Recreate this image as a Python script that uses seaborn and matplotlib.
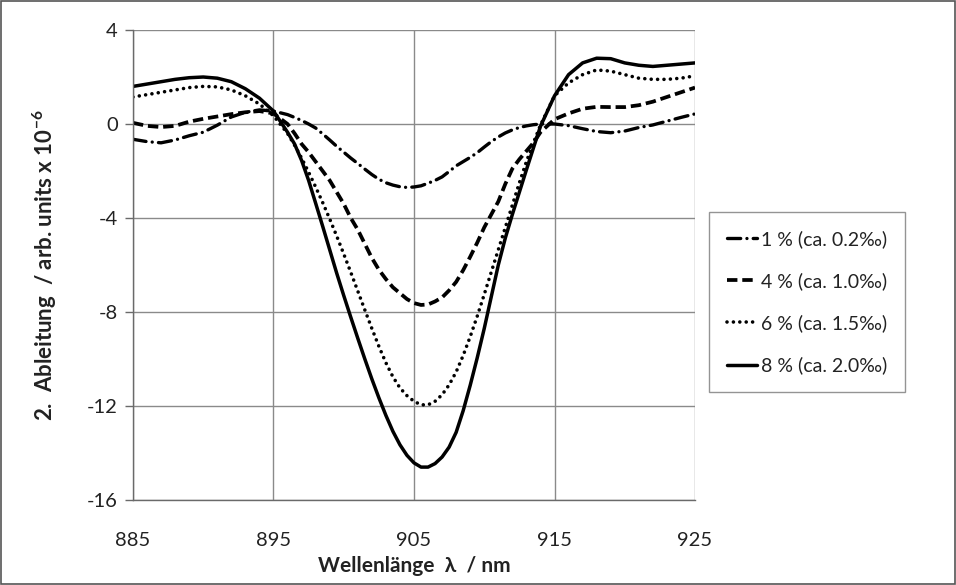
import numpy as np
import pandas as pd
import matplotlib
matplotlib.use("Agg")
import matplotlib.pyplot as plt
from matplotlib.patches import Rectangle
import seaborn as sns

# Wavelength grid (nm): 1 nm steps on the flanks, 0.5 nm through the absorption dip
wavelength = ([885, 886, 887, 888, 889, 890, 891, 892, 893, 894, 895]
              + [896 + 0.5 * i for i in range(37)]
              + [915, 916, 917, 918, 919, 920, 921, 922, 923, 924, 925])

# Second-derivative spectra (arb. units x 1e-6)
conc_1 = [-0.65, -0.75, -0.80, -0.68, -0.50, -0.35, -0.05, 0.30, 0.50, 0.60, 0.55,
          0.40, 0.28, 0.15, 0.00, -0.17, -0.42, -0.68, -0.95, -1.20, -1.45,
          -1.68, -1.92, -2.15, -2.35, -2.50, -2.60, -2.67, -2.70, -2.68, -2.63,
          -2.52, -2.40, -2.25, -2.02, -1.78, -1.60, -1.42, -1.22, -0.98, -0.75,
          -0.55, -0.38, -0.25, -0.15, -0.08, -0.03, 0.00,
          0.00, -0.07, -0.20, -0.32, -0.37, -0.30, -0.15, -0.04, 0.12, 0.28, 0.43]

conc_4 = [0.05, -0.08, -0.13, -0.08, 0.10, 0.22, 0.32, 0.42, 0.50, 0.55, 0.45,
          0.00, -0.40, -0.85, -1.20, -1.60, -2.00, -2.40, -2.90, -3.40, -4.00,
          -4.50, -5.10, -5.70, -6.20, -6.60, -6.95, -7.20, -7.45, -7.62, -7.70,
          -7.68, -7.55, -7.38, -7.08, -6.72, -6.22, -5.65, -5.05, -4.40, -3.85,
          -3.30, -2.55, -1.90, -1.50, -1.15, -0.80, -0.35,
          0.20, 0.45, 0.65, 0.73, 0.72, 0.72, 0.80, 0.95, 1.15, 1.35, 1.55]

conc_6 = [1.15, 1.25, 1.35, 1.45, 1.55, 1.60, 1.58, 1.45, 1.20, 0.85, 0.35,
          -0.40, -0.90, -1.45, -2.05, -2.68, -3.34, -4.04, -4.77, -5.53, -6.31,
          -7.11, -7.91, -8.70, -9.46, -10.16, -10.76, -11.23, -11.56, -11.80, -11.95,
          -11.95, -11.80, -11.52, -11.10, -10.55, -9.85, -9.05, -8.18, -7.25, -6.30,
          -5.35, -4.40, -3.45, -2.50, -1.60, -0.80, -0.05,
          1.20, 1.75, 2.10, 2.30, 2.25, 2.10, 1.95, 1.90, 1.90, 1.95, 2.05]

conc_8 = [1.60, 1.70, 1.80, 1.90, 1.97, 2.00, 1.95, 1.80, 1.50, 1.10, 0.55,
          -0.35, -0.85, -1.55, -2.40, -3.37, -4.35, -5.35, -6.35, -7.30, -8.22,
          -9.12, -10.00, -10.85, -11.65, -12.40, -13.08, -13.65, -14.10, -14.42, -14.60,
          -14.60, -14.45, -14.17, -13.75, -13.12, -12.20, -11.12, -9.95, -8.70, -7.35,
          -6.00, -4.85, -3.85, -2.90, -1.95, -1.02, -0.10,
          1.20, 2.10, 2.60, 2.80, 2.78, 2.60, 2.50, 2.45, 2.50, 2.55, 2.60]

labels = ["1 % (ca. 0.2‰)", "4 % (ca. 1.0‰)", "6 % (ca. 1.5‰)", "8 % (ca. 2.0‰)"]
x_ticks = [885, 895, 905, 915, 925]
y_ticks = [4, 0, -4, -8, -12, -16]

sns.set_theme(style="white")
plt.rcParams["font.family"] = ["Lato", "DejaVu Sans"]
plt.rcParams["lines.scale_dashes"] = False
plt.rcParams["axes.unicode_minus"] = False

fig = plt.figure(figsize=(9.56, 5.85), dpi=100)
ax = fig.add_axes([0.1391, 0.1453, 0.5879, 0.8034])

series = [conc_1, conc_4, conc_6, conc_8]
styles = [
    dict(dashes=(9.5, 4.5, 0.01, 4.5), lw=2.4, cap="round"),
    dict(dashes=(7.5, 3.5), lw=2.7, cap="butt"),
    dict(dashes=(0.01, 4.6), lw=2.6, cap="round"),
    dict(dashes=None, lw=2.5, cap="butt"),
]

for vals, lab, st in zip(series, labels, styles):
    df = pd.DataFrame({"wl": wavelength, "val": vals})
    sns.lineplot(data=df, x="wl", y="val", ax=ax, color="black",
                 linewidth=st["lw"], label=lab)
    line = ax.lines[-1]
    line.set_solid_joinstyle("round")
    line.set_dash_joinstyle("round")
    if st["dashes"] is not None:
        line.set_dashes(st["dashes"])
        line.set_dash_capstyle(st["cap"])
    else:
        line.set_linestyle("-")

ax.set_xlim(885, 925)
ax.set_ylim(-16, 4)
ax.set_xticks(x_ticks)
ax.set_yticks(y_ticks)
ax.grid(True, color="#8a8a8a", linewidth=1.0)
ax.set_axisbelow(True)
for side in ["top", "right"]:
    ax.spines[side].set_visible(False)
for side in ["left", "bottom"]:
    ax.spines[side].set_color("#6a6a6a")
    ax.spines[side].set_linewidth(1.0)

ax.tick_params(axis="y", direction="out", length=6, width=1, color="#6a6a6a",
               labelsize=14.5, labelcolor="#222222", pad=5, left=True)
ax.tick_params(axis="x", direction="out", length=0, labelsize=14.5,
               labelcolor="#222222", pad=23, bottom=True)

ax.set_xlabel("Wellenlänge  λ  / nm", fontsize=15, fontweight="bold",
              color="#222222", labelpad=5)
ax.set_ylabel("2.  Ableitung  / arb. units x 10$^{\\mathregular{-6}}$", fontsize=16,
              fontweight="bold", color="#222222", labelpad=20)

leg = ax.legend(loc="center left", bbox_to_anchor=(1.005, 0.421), frameon=True,
                fontsize=14, handlelength=1.55, handletextpad=0.2,
                labelspacing=1.25, borderpad=0.9, borderaxespad=0.6,
                fancybox=False)
leg.get_frame().set_edgecolor("#7a7a7a")
leg.get_frame().set_linewidth(1.0)
for t in leg.get_texts():
    t.set_color("#222222")

fig.patches.append(Rectangle((0.001, 0.001), 0.998, 0.998, transform=fig.transFigure,
                             fill=False, edgecolor="#555555", linewidth=1.2))

fig.savefig("out.png", dpi=100)
